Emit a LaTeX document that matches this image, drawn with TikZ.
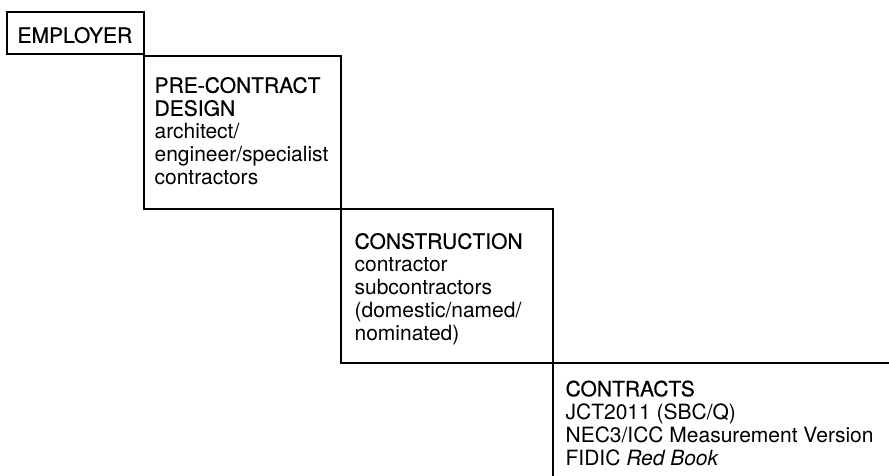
\documentclass[tikz,border=0pt]{standalone}
\usepackage{fontspec}
\setmainfont{TeX Gyre Heros}
\newfontfamily\headfont[FakeBold=0.5]{TeX Gyre Heros}
\usetikzlibrary{positioning}

\begin{document}
\begin{tikzpicture}[x=1pt, y=-1pt, line width=1.2pt,
  every node/.style={font=\fontsize{21}{23}\selectfont, inner sep=0pt, align=left}]
\useasboundingbox (0,0) rectangle (889,476);
% corners of the stair
\coordinate (emp) at (7,12);
\coordinate (dsg) at (144,56);
\coordinate (con) at (341,209);
\coordinate (ctr) at (553,363);
\coordinate (end) at (889,476);
\draw (emp) rectangle (144,54);
\draw (dsg) rectangle (con);
\draw (con) rectangle (ctr);
\draw (ctr |- end) -- (ctr) -- (ctr -| end);

\node[below right=14.5pt and 10pt of emp] (employer) {\headfont EMPLOYER};
\node[below right=20.5pt and 10pt of dsg] (design)
  {{\headfont PRE-CONTRACT}\\{\headfont DESIGN}\\architect/\\engineer/specialist\\contractors};
\node[below right=23.5pt and 13pt of con] (construction)
  {{\headfont CONSTRUCTION}\\contractor\\subcontractors\\(domestic/named/\\nominated)};
\node[below right=17pt and 12pt of ctr] (contracts)
  {{\headfont CONTRACTS}\\JCT2011 (SBC/Q)\\NEC3/ICC Measurement Version\\FIDIC \textit{Red Book}};
\end{tikzpicture}
\end{document}
